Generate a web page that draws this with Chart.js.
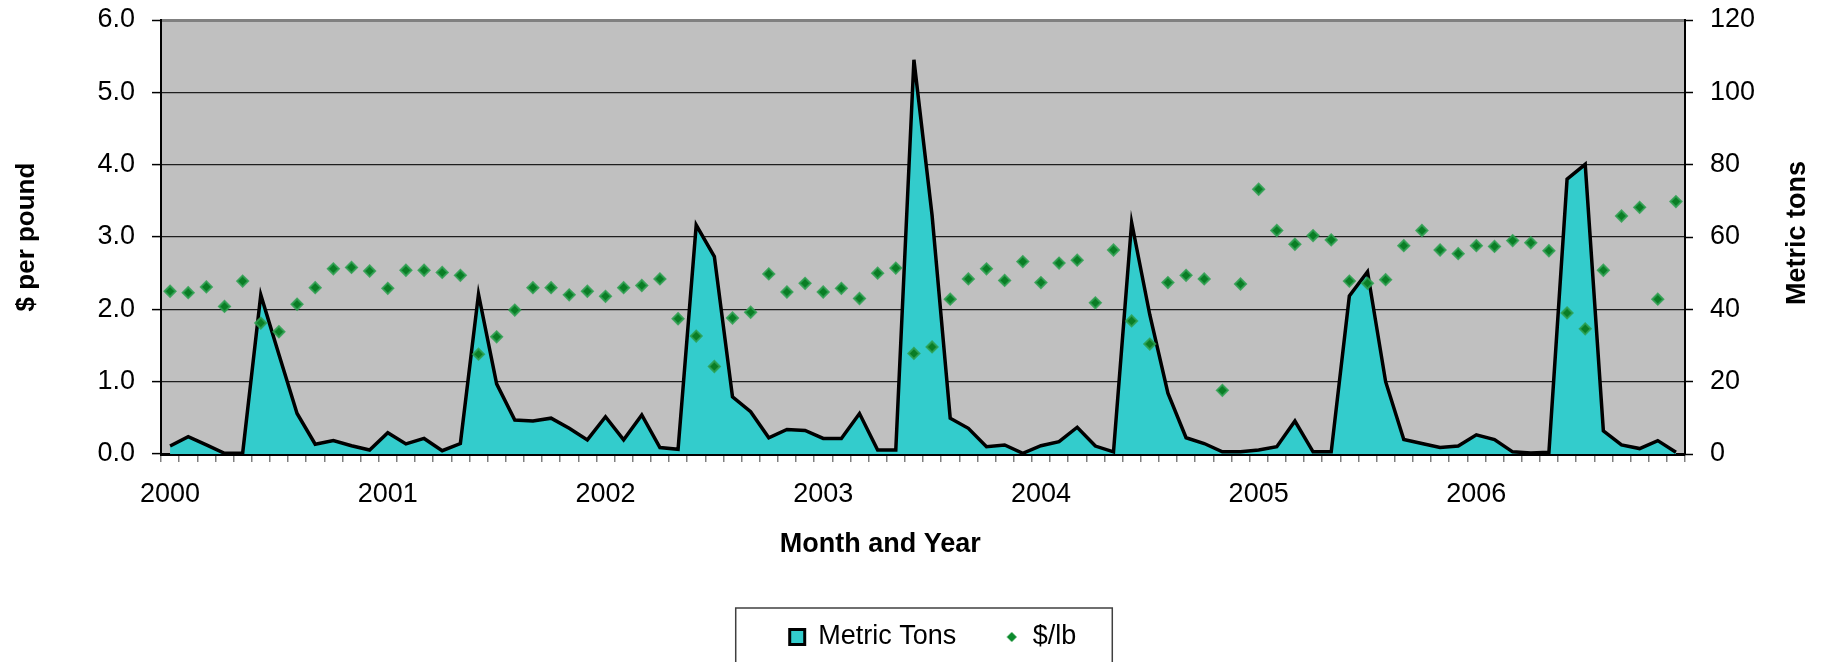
<!DOCTYPE html>
<html>
<head>
<meta charset="utf-8">
<script src="https://cdn.jsdelivr.net/npm/chart.js@4/dist/chart.umd.min.js"></script>
<style>
  html, body { margin: 0; padding: 0; background: #fff; }
  canvas { display: block; }
</style>
</head>
<body>
<canvas id="importsChart" width="1830" height="662"></canvas>
<script>
const FONT = "Arial, 'Liberation Sans', sans-serif";

const years = ["2000", "2001", "2002", "2003", "2004", "2005", "2006"];
const monthNames = ["Jan", "Feb", "Mar", "Apr", "May", "Jun", "Jul", "Aug", "Sep", "Oct", "Nov", "Dec"];

// monthly shipments, metric tons (right axis)
const metricTons = [
  2.2, 4.8, 2.5, 0.2, 0.2, 44.0, 27.5, 11.2, 2.7, 3.7, 2.3, 1.1,
  5.9, 2.8, 4.3, 0.9, 2.9, 44.2, 19.4, 9.4, 9.1, 9.9, 7.1, 3.9,
  10.3, 3.9, 10.8, 1.8, 1.3, 63.3, 54.6, 15.8, 11.7, 4.5, 6.8, 6.5,
  4.3, 4.3, 11.2, 1.1, 1.1, 109.0, 66.0, 9.9, 7.1, 2.0, 2.5, 0.2,
  2.3, 3.4, 7.4, 2.2, 0.6, 64.0, 38.5, 16.8, 4.5, 2.9, 0.6, 0.6,
  1.1, 2.0, 9.1, 0.6, 0.6, 43.7, 50.4, 20.0, 4.0, 2.9, 1.8, 2.2,
  5.3, 4.0, 0.6, 0.3, 0.5, 76.0, 80.1, 6.4, 2.5, 1.5, 3.7, 0.5
];

// monthly price, $ per pound (left axis)
const pricePerLb = [
  2.25, 2.23, 2.31, 2.04, 2.39, 1.81, 1.69, 2.07, 2.30, 2.56, 2.58, 2.53,
  2.29, 2.54, 2.54, 2.51, 2.47, 1.38, 1.62, 1.99, 2.30, 2.30, 2.20, 2.25,
  2.18, 2.30, 2.33, 2.42, 1.87, 1.63, 1.21, 1.88, 1.96, 2.49, 2.24, 2.36,
  2.24, 2.29, 2.15, 2.50, 2.57, 1.39, 1.48, 2.14, 2.42, 2.56, 2.40, 2.66,
  2.37, 2.64, 2.68, 2.09, 2.82, 1.84, 1.52, 2.37, 2.47, 2.42, 0.88, 2.35,
  3.66, 3.09, 2.90, 3.02, 2.96, 2.39, 2.36, 2.41, 2.88, 3.09, 2.82, 2.77,
  2.88, 2.87, 2.95, 2.92, 2.81, 1.95, 1.73, 2.54, 3.29, 3.41, 2.14, 3.49
];

const categories = [];
years.forEach(y => monthNames.forEach(m => categories.push(m + " " + y)));

// small diamond used as the $/lb legend marker
const diamondMarker = document.createElement("canvas");
diamondMarker.width = 12;
diamondMarker.height = 12;
(function () {
  const g = diamondMarker.getContext("2d");
  g.fillStyle = "#0b8a2c";
  g.beginPath();
  g.moveTo(6, 1); g.lineTo(11, 6); g.lineTo(6, 11); g.lineTo(1, 6);
  g.closePath();
  g.fill();
})();

// fixed axis boxes, no extra padding from tick label overhang
function fixBox(size) {
  return s => {
    if (s.isHorizontal()) s.height = size; else s.width = size;
    s.paddingTop = s.paddingBottom = s.paddingLeft = s.paddingRight = 0;
  };
}

const plotBackground = {
  id: "plotBackground",
  beforeDraw(chart) {
    const { ctx, chartArea: a } = chart;
    ctx.save();
    ctx.fillStyle = "#c0c0c0";
    ctx.fillRect(a.left, a.top, a.right - a.left, a.bottom - a.top);
    ctx.restore();
  }
};

// x title sits a little left of centre, right title reads bottom-to-top
const sideTitles = {
  id: "sideTitles",
  afterDraw(chart) {
    const { ctx, chartArea: a } = chart;
    ctx.save();
    ctx.fillStyle = "#000";
    ctx.font = "bold 27px " + FONT;
    ctx.textAlign = "center";
    ctx.textBaseline = "middle";
    ctx.fillText("Month and Year", a.left + (a.right - a.left) * 0.472, a.bottom + 91);
    ctx.translate(chart.width - 32, (a.top + a.bottom) / 2 - 4);
    ctx.rotate(-Math.PI / 2);
    ctx.fillText("Metric tons", 0, 0);
    ctx.restore();
  }
};

const legendFrame = {
  id: "legendFrame",
  afterDraw(chart) {
    const boxes = chart.legend.legendHitBoxes;
    if (!boxes || !boxes.length) return;
    const first = boxes[0];
    const last = boxes[boxes.length - 1];
    const midY = first.top + first.height / 2;
    const left = first.left - 54;
    const right = last.left + last.width + 36;
    const ctx = chart.ctx;
    ctx.save();
    ctx.strokeStyle = "#404040";
    ctx.lineWidth = 1.5;
    ctx.strokeRect(left, midY - 29, right - left, chart.height);
    ctx.restore();
  }
};

new Chart("importsChart", {
  type: "line",
  data: {
    labels: categories,
    datasets: [
      {
        label: "Metric Tons",
        data: metricTons,
        yAxisID: "y1",
        order: 1,
        fill: "origin",
        backgroundColor: "#33cccc",
        borderColor: "#000",
        borderWidth: 3.5,
        pointRadius: 0,
        pointStyle: "rect",
        tension: 0
      },
      {
        label: "$/lb",
        data: pricePerLb,
        yAxisID: "y",
        order: 0,
        showLine: false,
        pointStyle: "rectRot",
        pointRadius: 5.5,
        pointBackgroundColor: "#0a7d25",
        pointBorderColor: "rgba(45,160,80,0.85)",
        pointBorderWidth: 2,
        backgroundColor: "#0a7d25",
        borderColor: "#0a7d25"
      }
    ]
  },
  options: {
    responsive: false,
    devicePixelRatio: 1,
    animation: false,
    events: [],
    // left padding nudges the centred legend; the left axis box makes up the rest
    layout: { autoPadding: false, padding: { top: 20, bottom: 1.5, left: 36, right: 0 } },
    scales: {
      x: {
        type: "category",
        offset: true,
        afterFit: fixBox(121.5),
        grid: {
          display: true,
          offset: true,
          drawOnChartArea: false,
          drawTicks: true,
          tickLength: 8,
          color: "#808080",
          lineWidth: 1.5
        },
        border: { display: true, color: "#000", width: 3 },
        ticks: {
          autoSkip: false,
          maxRotation: 0,
          minRotation: 0,
          padding: 19.5,
          color: "#000",
          font: { family: FONT, size: 27, lineHeight: 1 },
          callback: (value, index) => (index % 12 === 0 ? years[index / 12] : "")
        }
      },
      y: {
        position: "left",
        min: 0,
        max: 6,
        afterFit: fixBox(125),
        grid: {
          color: c => (c.tick.value === 6 ? "#808080" : "#1e1e1e"),
          lineWidth: c => (c.tick.value === 6 ? 3 : 1.2),
          tickColor: "#000",
          tickWidth: 1.5,
          tickLength: 9
        },
        border: { display: true, color: "#000", width: 2 },
        ticks: {
          stepSize: 1,
          padding: 17,
          color: "#000",
          font: { family: FONT, size: 27, lineHeight: 1 },
          callback: v => v.toFixed(1)
        },
        title: {
          display: true,
          text: "$ per pound",
          color: "#000",
          padding: { top: -22, bottom: 0 },
          font: { family: FONT, size: 26, weight: "bold", lineHeight: 1 }
        }
      },
      y1: {
        position: "right",
        min: 0,
        max: 120,
        afterFit: fixBox(145),
        grid: {
          drawOnChartArea: false,
          tickColor: "#000",
          tickWidth: 1.5,
          tickLength: 8
        },
        border: { display: true, color: "#000", width: 2 },
        ticks: {
          stepSize: 20,
          padding: 17,
          color: "#000",
          font: { family: FONT, size: 27, lineHeight: 1 }
        }
      }
    },
    plugins: {
      tooltip: { enabled: false },
      legend: {
        display: true,
        position: "bottom",
        labels: {
          usePointStyle: true,
          boxWidth: 15,
          boxHeight: 15,
          padding: 48,
          color: "#000",
          font: { family: FONT, size: 27 },
          sort: (a, b) => a.datasetIndex - b.datasetIndex,
          generateLabels(chart) {
            const items = Chart.defaults.plugins.legend.labels.generateLabels(chart);
            items.forEach(item => {
              if (item.datasetIndex === 0) {
                item.pointStyle = "rect";
                item.lineWidth = 3;
              } else {
                item.pointStyle = diamondMarker;
              }
            });
            return items;
          }
        }
      }
    }
  },
  plugins: [plotBackground, sideTitles, legendFrame]
});
</script>
</body>
</html>
